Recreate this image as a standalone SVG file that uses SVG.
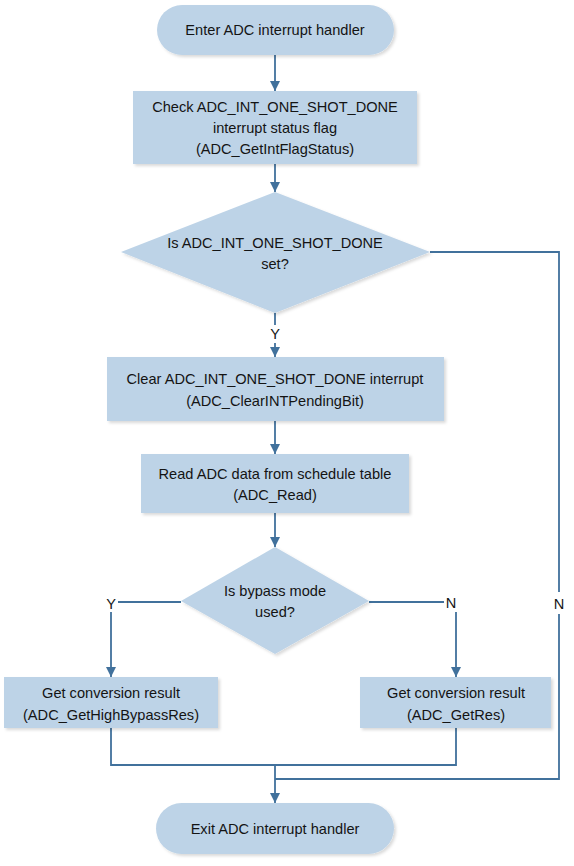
<svg xmlns="http://www.w3.org/2000/svg" width="574" height="866" viewBox="0 0 574 866">
<defs>
<style>
.n{fill:#BDD3E7;filter:url(#sh)}
.t{font-family:"Liberation Sans",Arial,sans-serif;font-size:14.6px;fill:#141414;text-anchor:middle;dominant-baseline:central}
.c{fill:none;stroke:#41719C;stroke-width:1.8}
.l{fill:#fff}
</style>
<filter id="sh" x="-10%" y="-10%" width="125%" height="130%">
<feDropShadow dx="2" dy="2" stdDeviation="1.5" flood-color="#000" flood-opacity="0.15"/>
</filter>
<marker id="a" markerWidth="10" markerHeight="10" refX="10" refY="5" orient="auto" markerUnits="userSpaceOnUse">
<path d="M0,0 L10,5 L0,10 Z" fill="#41719C"/>
</marker>
</defs>
<rect width="574" height="866" fill="#fff"/>
<g id="connectors">
<path class="c" d="M275,55 V91" marker-end="url(#a)"/>
<path class="c" d="M275,164 V192" marker-end="url(#a)"/>
<path class="c" d="M275,313 V357" marker-end="url(#a)"/>
<path class="c" d="M275,421 V454" marker-end="url(#a)"/>
<path class="c" d="M275,513 V547" marker-end="url(#a)"/>
<path class="c" d="M181,602 H111 V677" marker-end="url(#a)"/>
<path class="c" d="M369,602 H456 V677" marker-end="url(#a)"/>
<path class="c" d="M430,252 H559 V779 H275"/>
<path class="c" d="M111,728 V765 H456 V728"/>
<path class="c" d="M275,765 V803" marker-end="url(#a)"/>
<rect class="l" x="268" y="325" width="14" height="18"/>
<text class="t" x="275" y="334">Y</text>
<rect class="l" x="104" y="594" width="14" height="18"/>
<text class="t" x="111" y="604">Y</text>
<rect class="l" x="444" y="594" width="14" height="18"/>
<text class="t" x="451" y="603">N</text>
<rect class="l" x="552" y="592" width="14" height="22"/>
<text class="t" x="559" y="604">N</text>
</g>
<g id="start">
<rect class="n" x="157" y="5" width="237" height="50" rx="25"/>
<text class="t" x="275" y="30">Enter ADC interrupt handler</text>
</g>
<g id="check">
<rect class="n" x="133" y="91" width="284" height="73"/>
<text class="t" x="275" y="107">Check ADC_INT_ONE_SHOT_DONE</text>
<text class="t" x="275" y="128">interrupt status flag</text>
<text class="t" x="275" y="149">(ADC_GetIntFlagStatus)</text>
</g>
<g id="dec1">
<polygon class="n" points="275,192 430,252 275,313 121,252"/>
<text class="t" x="275" y="243">Is ADC_INT_ONE_SHOT_DONE</text>
<text class="t" x="275" y="264">set?</text>
</g>
<g id="clear">
<rect class="n" x="107" y="357" width="337" height="64"/>
<text class="t" x="275" y="379">Clear ADC_INT_ONE_SHOT_DONE interrupt</text>
<text class="t" x="275" y="401">(ADC_ClearINTPendingBit)</text>
</g>
<g id="read">
<rect class="n" x="141" y="454" width="268" height="59"/>
<text class="t" x="275" y="474">Read ADC data from schedule table</text>
<text class="t" x="275" y="495">(ADC_Read)</text>
</g>
<g id="dec2">
<polygon class="n" points="275,547 369,601 275,654 181,601"/>
<text class="t" x="275" y="591">Is bypass mode</text>
<text class="t" x="275" y="612">used?</text>
</g>
<g id="bypass">
<rect class="n" x="4" y="677" width="214" height="51"/>
<text class="t" x="111" y="693">Get conversion result</text>
<text class="t" x="111" y="715">(ADC_GetHighBypassRes)</text>
</g>
<g id="getres">
<rect class="n" x="360" y="677" width="191" height="51"/>
<text class="t" x="456" y="693">Get conversion result</text>
<text class="t" x="456" y="715">(ADC_GetRes)</text>
</g>
<g id="exit">
<rect class="n" x="156" y="803" width="238" height="51" rx="25.5"/>
<text class="t" x="275" y="829">Exit ADC interrupt handler</text>
</g>
</svg>
